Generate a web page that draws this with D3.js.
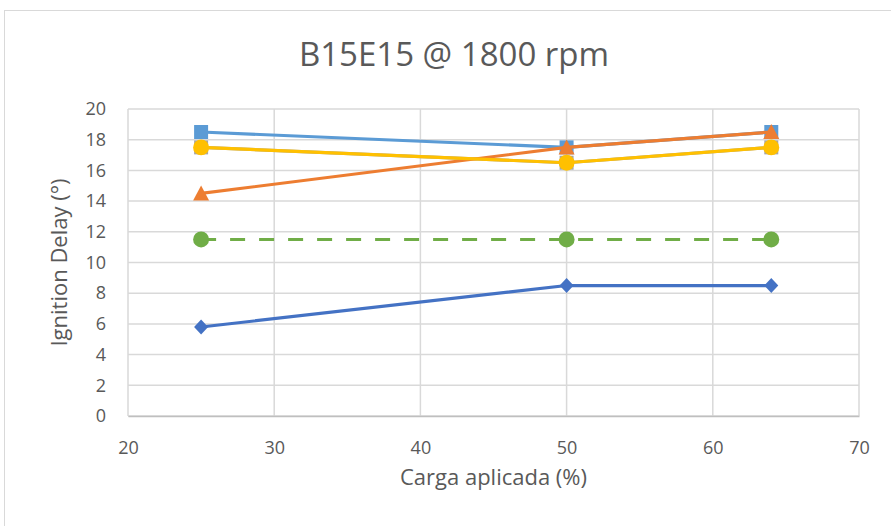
<!DOCTYPE html>
<html>
<head>
<meta charset="utf-8">
<script src="https://cdn.jsdelivr.net/npm/d3@7"></script>
<style>
  html, body { margin: 0; padding: 0; background: #fff; }
  text { font-family: "Open Sans", "Liberation Sans", sans-serif; fill: #595959; }
</style>
</head>
<body>
<svg id="chart" width="891" height="526"></svg>
<script>
// Applied load (%) on the x axis
const carga = [25, 50, 64];

// Ignition delay (°) per series
const serieAzulClaro = [18.5, 17.5, 18.5];
const serieGris      = [17.5, 16.5, 17.5];
const serieNaranja   = [14.5, 17.5, 18.5];
const serieAmarilla  = [17.5, 16.5, 17.5];
const serieVerde     = [11.5, 11.5, 11.5];
const serieAzul      = [5.8, 8.5, 8.5];

const xTicks = [20, 30, 40, 50, 60, 70];
const yTicks = [0, 2, 4, 6, 8, 10, 12, 14, 16, 18, 20];

const svg = d3.select("#chart");
const margin = { left: 128, right: 32, top: 109, bottom: 110 };
const W = 891, H = 526;

// chart frame
svg.append("rect").attr("x", 4.5).attr("y", 10.5).attr("width", 900).attr("height", 600)
  .attr("fill", "#fff").attr("stroke", "#D9D9D9").attr("stroke-width", 1);

const x = d3.scaleLinear().domain([20, 70]).range([margin.left, W - margin.right]);
const y = d3.scaleLinear().domain([0, 20]).range([H - margin.bottom, margin.top]);

// gridlines
const grid = svg.append("g");
grid.selectAll("line.h").data(yTicks).join("line")
  .attr("x1", x(20)).attr("x2", x(70))
  .attr("y1", d => y(d)).attr("y2", d => y(d))
  .attr("stroke", "#D9D9D9").attr("stroke-width", 1.5);
grid.selectAll("line.v").data(xTicks).join("line")
  .attr("y1", y(0)).attr("y2", y(20))
  .attr("x1", d => x(d)).attr("x2", d => x(d))
  .attr("stroke", "#D9D9D9").attr("stroke-width", 1.5);

// axes
const xAxis = svg.append("g").attr("transform", `translate(0,${y(0)})`)
  .call(d3.axisBottom(x).tickValues(xTicks).tickSize(0).tickPadding(25));
xAxis.select(".domain").attr("stroke", "#BFBFBF").attr("stroke-width", 1.5);
xAxis.selectAll("text").style("font-size", "18px").attr("fill", "#595959");

const yAxis = svg.append("g").attr("transform", `translate(${x(20)},0)`)
  .call(d3.axisLeft(y).tickValues(yTicks).tickSize(0).tickPadding(22));
yAxis.select(".domain").remove();
yAxis.selectAll("text").style("font-size", "18px").attr("fill", "#595959");

// titles
svg.append("text").attr("x", 454).attr("y", 66).attr("text-anchor", "middle")
  .style("font-size", "33px").text("B15E15 @ 1800 rpm");
svg.append("text").attr("x", (x(20) + x(70)) / 2).attr("y", 485).attr("text-anchor", "middle")
  .style("font-size", "22px").text("Carga aplicada (%)");
svg.append("text").attr("transform", `translate(67,${(y(0) + y(20)) / 2}) rotate(-90)`)
  .attr("text-anchor", "middle").style("font-size", "22px").text("Ignition Delay (°)");

const line = d3.line().x((d, i) => x(carga[i])).y(d => y(d));

// marker shapes
const markers = {
  square: "M-7,-7H7V7H-7Z",
  diamond: "M0,-7.5L7,0L0,7.5L-7,0Z",
  triangle: "M0,-8L8,7H-8Z",
  circle: d3.symbol().type(d3.symbolCircle).size(200)()
};

function drawSeries(values, color, marker, dash) {
  const g = svg.append("g");
  g.append("path").datum(values).attr("d", line).attr("fill", "none")
    .attr("stroke", color).attr("stroke-width", 3.2).attr("stroke-linejoin", "round")
    .attr("stroke-dasharray", dash || null);
  g.selectAll("path.m").data(values).join("path")
    .attr("transform", (d, i) => `translate(${x(carga[i])},${y(d)})`)
    .attr("d", markers[marker])
    .attr("fill", color);
}

drawSeries(serieAzul, "#4472C4", "diamond");
drawSeries(serieAzulClaro, "#5B9BD5", "square");
drawSeries(serieGris, "#A5A5A5", "square");
drawSeries(serieNaranja, "#ED7D31", "triangle");
drawSeries(serieAmarilla, "#FFC000", "circle");
drawSeries(serieVerde, "#70AD47", "circle", "15,14");
</script>
</body>
</html>
